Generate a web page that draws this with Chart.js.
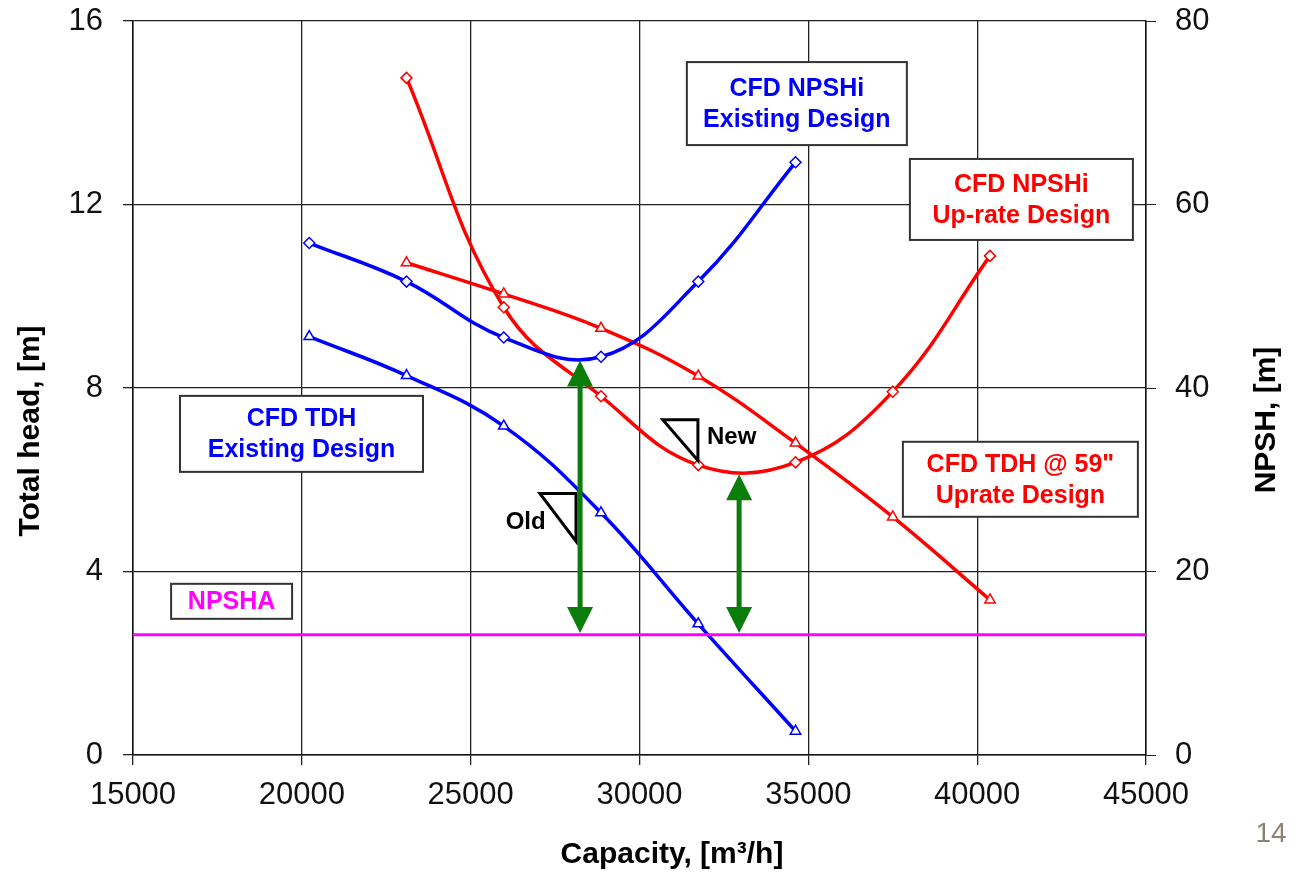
<!DOCTYPE html>
<html>
<head>
<meta charset="utf-8">
<script src="https://cdn.jsdelivr.net/npm/chart.js@4.4.1/dist/chart.umd.min.js"></script>
<style>
  html, body { margin: 0; padding: 0; background: #fff; }
  #wrap { width: 1295px; height: 873px; position: relative; }
</style>
</head>
<body>
<div id="wrap"><canvas id="chart"></canvas></div>
<script>
// Capacity points, [m3/h]
const capExisting = [20220, 23100, 25980, 28860, 31740, 34620];
const capUprate = [23100, 25980, 28860, 31740, 34620, 37500, 40380];

// Total head, [m] (left axis)
const tdhExisting = [9.12, 8.27, 7.17, 5.28, 2.86, 0.52];
const tdhUprate = [10.73, 10.05, 9.30, 8.26, 6.80, 5.19, 3.38];

// NPSH, [m] (right axis)
const npshiExisting = [55.8, 51.6, 45.5, 43.4, 51.6, 64.6];
const npshiUprate = [73.8, 48.8, 39.1, 31.6, 31.9, 39.6, 54.4];
const npshaCap = [15000, 45000];
const npshaValue = [13.1, 13.1];

// margin arrows: capacity, top and bottom in NPSH units
const arrowCap = [28240, 32950];
const arrowTop = [43.0, 30.6];
const arrowBottom = [13.3, 13.3];

// axis ticks
const xTicks = [15000, 20000, 25000, 30000, 35000, 40000, 45000];
const headTicks = [0, 4, 8, 12, 16];
const npshTicks = [0, 20, 40, 60, 80];

const pts = (xs, ys) => xs.map((x, i) => ({ x: x, y: ys[i] }));

// text boxes: anchor in data units (capacity, head), size in px
const boxes = [
  { x: 34660, y: 14.20, w: 220, h: 83, color: '#0000ff', lines: ['CFD NPSHi', 'Existing Design'] },
  { x: 41310, y: 12.11, w: 223, h: 81, color: '#ff0000', lines: ['CFD NPSHi', 'Up-rate Design'] },
  { x: 19990, y: 7.00, w: 243, h: 76, color: '#0000ff', lines: ['CFD TDH', 'Existing Design'] },
  { x: 17920, y: 3.35, w: 121, h: 35, color: '#ff00ff', lines: ['NPSHA'] },
  { x: 41280, y: 6.01, w: 235, h: 75, color: '#ff0000', lines: ['CFD TDH @ 59"', 'Uprate Design'] }
];

// slope triangles: [x1, x2, yTop, yBottom] in capacity/head
const slopeMarks = [
  { x1: 27050, x2: 28120, yt: 5.70, yb: 4.66, label: 'Old', lx: 27220, ly: 5.06, align: 'right' },
  { x1: 30690, x2: 31730, yt: 7.31, yb: 6.42, label: 'New', lx: 32000, ly: 6.93, align: 'left' }
];

const decorPlugin = {
  id: 'decor',
  afterDatasetsDraw(chart) {
    const ctx = chart.ctx;
    const sx = chart.scales.x, sh = chart.scales.yHead, sn = chart.scales.yNpsh;

    // green arrows
    ctx.save();
    ctx.fillStyle = '#0b7d0b';
    ctx.strokeStyle = '#0b7d0b';
    arrowCap.forEach((c, i) => {
      const x = sx.getPixelForValue(c);
      const yt = sn.getPixelForValue(arrowTop[i]);
      const yb = sn.getPixelForValue(arrowBottom[i]);
      const hl = 26, hw = 13;
      ctx.lineWidth = 5;
      ctx.beginPath();
      ctx.moveTo(x, yt + hl - 2);
      ctx.lineTo(x, yb - hl + 2);
      ctx.stroke();
      ctx.beginPath();
      ctx.moveTo(x, yt); ctx.lineTo(x - hw, yt + hl); ctx.lineTo(x + hw, yt + hl); ctx.closePath();
      ctx.fill();
      ctx.beginPath();
      ctx.moveTo(x, yb); ctx.lineTo(x - hw, yb - hl); ctx.lineTo(x + hw, yb - hl); ctx.closePath();
      ctx.fill();
    });
    ctx.restore();

    // slope triangles
    ctx.save();
    ctx.strokeStyle = '#000';
    ctx.lineWidth = 3;
    ctx.lineJoin = 'miter';
    ctx.fillStyle = '#000';
    ctx.font = 'bold 24px "Liberation Sans", Arial, sans-serif';
    ctx.textBaseline = 'middle';
    slopeMarks.forEach(m => {
      const x1 = sx.getPixelForValue(m.x1), x2 = sx.getPixelForValue(m.x2);
      const yt = sh.getPixelForValue(m.yt), yb = sh.getPixelForValue(m.yb);
      ctx.beginPath();
      ctx.moveTo(x1, yt); ctx.lineTo(x2, yt); ctx.lineTo(x2, yb); ctx.closePath();
      ctx.stroke();
      ctx.textAlign = m.align;
      ctx.fillText(m.label, sx.getPixelForValue(m.lx), sh.getPixelForValue(m.ly));
    });
    ctx.restore();

    // text boxes
    ctx.save();
    boxes.forEach(b => {
      const cx = sx.getPixelForValue(b.x), cy = sh.getPixelForValue(b.y);
      ctx.fillStyle = '#fff';
      ctx.fillRect(cx - b.w / 2, cy - b.h / 2, b.w, b.h);
      ctx.strokeStyle = '#333';
      ctx.lineWidth = 2;
      ctx.strokeRect(cx - b.w / 2, cy - b.h / 2, b.w, b.h);
      ctx.fillStyle = b.color;
      ctx.font = 'bold 25px "Liberation Sans", Arial, sans-serif';
      ctx.textAlign = 'center';
      ctx.textBaseline = 'middle';
      const lh = 31;
      const y0 = cy - (b.lines.length - 1) * lh / 2 + 1;
      b.lines.forEach((t, k) => ctx.fillText(t, cx, y0 + k * lh));
    });
    ctx.restore();
  },
  afterDraw(chart) {
    const ctx = chart.ctx;
    const a = chart.chartArea;
    ctx.save();
    ctx.fillStyle = '#000';
    ctx.font = 'bold 30px "Liberation Sans", Arial, sans-serif';
    ctx.textAlign = 'center';
    ctx.textBaseline = 'middle';
    ctx.fillText('Capacity, [m³/h]', a.left + 539, a.bottom + 100);

    ctx.save();
    ctx.translate(a.left - 102, a.top + 410);
    ctx.rotate(-Math.PI / 2);
    ctx.fillText('Total head, [m]', 0, 0);
    ctx.restore();

    ctx.save();
    ctx.translate(a.right + 121, a.top + 399);
    ctx.rotate(-Math.PI / 2);
    ctx.fillText('NPSH, [m]', 0, 0);
    ctx.restore();

    ctx.fillStyle = '#8e8372';
    ctx.font = '28px "Liberation Sans", Arial, sans-serif';
    ctx.fillText('14', 1271, 834);
    ctx.restore();
  }
};

const tickFont = { family: '"Liberation Sans", Arial, sans-serif', size: 31 };

const fitY = w => s => {
  s.width = w;
  s.paddingTop = 0;
  s.paddingBottom = 0;
};

new Chart(document.getElementById('chart'), {
  type: 'line',
  data: {
    datasets: [
      {
        label: 'NPSHA',
        data: pts(npshaCap, npshaValue),
        yAxisID: 'yNpsh',
        borderColor: '#ff00ff',
        borderWidth: 3,
        pointRadius: 0,
        tension: 0
      },
      {
        label: 'CFD TDH Existing Design',
        data: pts(capExisting, tdhExisting),
        yAxisID: 'yHead',
        borderColor: '#0000ff',
        borderWidth: 3.5,
        pointStyle: 'triangle',
        pointRadius: 6,
        pointBorderWidth: 1.5,
        pointBackgroundColor: '#fff',
        pointBorderColor: '#0000ff',
        tension: 0.4
      },
      {
        label: 'CFD NPSHi Existing Design',
        data: pts(capExisting, npshiExisting),
        yAxisID: 'yNpsh',
        borderColor: '#0000ff',
        borderWidth: 3.5,
        pointStyle: 'rectRot',
        pointRadius: 5.5,
        pointBorderWidth: 1.5,
        pointBackgroundColor: '#fff',
        pointBorderColor: '#0000ff',
        tension: 0.4
      },
      {
        label: 'CFD TDH @ 59" Uprate Design',
        data: pts(capUprate, tdhUprate),
        yAxisID: 'yHead',
        borderColor: '#ff0000',
        borderWidth: 3.5,
        pointStyle: 'triangle',
        pointRadius: 6,
        pointBorderWidth: 1.5,
        pointBackgroundColor: '#fff',
        pointBorderColor: '#ff0000',
        tension: 0.4
      },
      {
        label: 'CFD NPSHi Up-rate Design',
        data: pts(capUprate, npshiUprate),
        yAxisID: 'yNpsh',
        borderColor: '#ff0000',
        borderWidth: 3.5,
        pointStyle: 'rectRot',
        pointRadius: 5.5,
        pointBorderWidth: 1.5,
        pointBackgroundColor: '#fff',
        pointBorderColor: '#ff0000',
        tension: 0.4
      }
    ]
  },
  options: {
    responsive: true,
    maintainAspectRatio: false,
    animation: false,
    layout: { padding: { top: 21, left: 0, right: 0, bottom: 0 } },
    plugins: {
      legend: { display: false },
      tooltip: { enabled: false }
    },
    scales: {
      x: {
        type: 'linear',
        min: 15000,
        max: 45000,
        afterFit: s => { s.height = 118; s.paddingLeft = 0; s.paddingRight = 0; },
        afterBuildTicks: s => { s.ticks = xTicks.map(v => ({ value: v })); },
        ticks: { font: tickFont, color: '#111', padding: 12, maxRotation: 0, callback: v => String(v) },
        grid: { color: '#222', lineWidth: 1.3, tickLength: 10, tickColor: '#222' },
        border: { color: '#111', width: 1.5 }
      },
      yHead: {
        type: 'linear',
        position: 'left',
        min: 0,
        max: 16,
        afterFit: fitY(133),
        afterBuildTicks: s => { s.ticks = headTicks.map(v => ({ value: v })); },
        ticks: { font: tickFont, color: '#111', padding: 20 },
        grid: { color: '#222', lineWidth: 1.3, tickLength: 10, tickColor: '#222' },
        border: { color: '#111', width: 1.5 }
      },
      yNpsh: {
        type: 'linear',
        position: 'right',
        min: 0,
        max: 80,
        afterFit: fitY(149),
        afterBuildTicks: s => { s.ticks = npshTicks.map(v => ({ value: v })); },
        ticks: { font: tickFont, color: '#111', padding: 19 },
        grid: { drawOnChartArea: false, tickLength: 10, tickColor: '#222' },
        border: { color: '#111', width: 1.5 }
      }
    }
  },
  plugins: [decorPlugin]
});
</script>
</body>
</html>
